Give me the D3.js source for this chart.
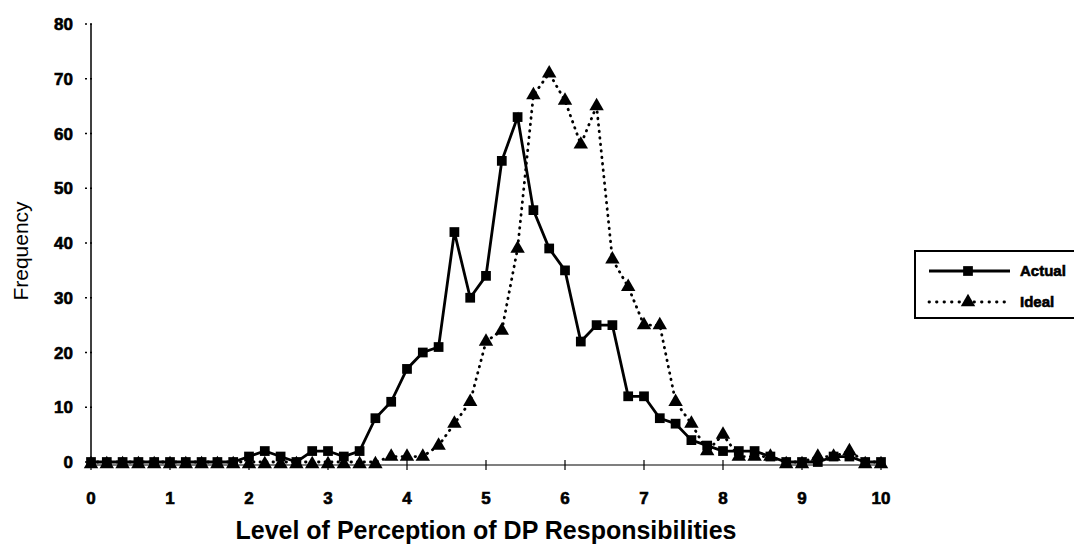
<!DOCTYPE html>
<html>
<head>
<meta charset="utf-8">
<script src="https://cdn.jsdelivr.net/npm/d3@7"></script>
<style>
  body { margin: 0; background: #fff; }
  text { font-family: "Liberation Sans", Arial, sans-serif; }
  .heavy { stroke: #000; stroke-width: 0.6px; }
</style>
</head>
<body>
<svg id="chart" width="1074" height="554"></svg>
<script>
// 数据：横坐标每0.2一个点
const levels = d3.range(0, 51).map(i => +(i * 0.2).toFixed(1));
const actualValues = [0, 0, 0, 0, 0, 0, 0, 0, 0, 0,
    1, 2, 1, 0, 2, 2, 1, 2, 8, 11,
    17, 20, 21, 42, 30, 34, 55, 63, 46, 39,
    35, 22, 25, 25, 12, 12, 8, 7, 4, 3,
    2, 2, 2, 1, 0, 0, 0, 1, 1, 0, 0];
const idealValues = [0, 0, 0, 0, 0, 0, 0, 0, 0, 0,
    0, 0, 0, 0, 0, 0, 0, 0, 0, 1,
    1, 1, 3, 7, 11, 22, 24, 39, 67, 71,
    66, 58, 65, 37, 32, 25, 25, 11, 7, 2,
    5, 1, 1, 1, 0, 0, 1, 1, 2, 0, 0];
const xTicks = d3.range(0, 11);
const yTicks = d3.range(0, 90, 10);
const seriesNames = ['Actual', 'Ideal'];

const svg = d3.select('#chart');

const x = d3.scaleLinear().domain([0, 10]).range([91, 881]);
const y = d3.scaleLinear().domain([0, 80]).range([462, 24]);

// 纵轴
svg.append('line')
    .attr('x1', x(0)).attr('x2', x(0))
    .attr('y1', y(80)).attr('y2', y(0))
    .attr('stroke', '#000').attr('stroke-width', 1.5);

svg.append('g').selectAll('line')
    .data(yTicks)
    .join('line')
    .attr('x1', x(0) - 6).attr('x2', x(0) + 4)
    .attr('y1', d => y(d)).attr('y2', d => y(d))
    .attr('stroke', '#000').attr('stroke-width', 1.5)
    .attr('stroke-dasharray', '2,3');

svg.append('g').selectAll('text')
    .data(yTicks)
    .join('text')
    .attr('class', 'heavy')
    .attr('x', 73).attr('y', d => y(d) + 6)
    .attr('text-anchor', 'end')
    .attr('font-size', '17px').attr('font-weight', 'bold')
    .text(d => d);

// 横轴
const axisY = y(0) + 3;
svg.append('line')
    .attr('x1', x(0)).attr('x2', x(10))
    .attr('y1', axisY).attr('y2', axisY)
    .attr('stroke', '#000').attr('stroke-width', 1.2);

svg.append('g').selectAll('line')
    .data(xTicks)
    .join('line')
    .attr('x1', d => x(d)).attr('x2', d => x(d))
    .attr('y1', axisY - 5).attr('y2', axisY + 5)
    .attr('stroke', '#000').attr('stroke-width', 1.2);

svg.append('g').selectAll('text')
    .data(xTicks)
    .join('text')
    .attr('class', 'heavy')
    .attr('x', d => x(d)).attr('y', 504)
    .attr('text-anchor', 'middle')
    .attr('font-size', '17px').attr('font-weight', 'bold')
    .text(d => d);

// 标题
svg.append('text')
    .attr('x', 486).attr('y', 539)
    .attr('text-anchor', 'middle')
    .attr('font-size', '25px').attr('font-weight', 'bold')
    .text('Level of Perception of DP Responsibilities');

svg.append('text')
    .attr('transform', `translate(28, ${y(40) + 8}) rotate(-90)`)
    .attr('text-anchor', 'middle')
    .attr('font-family', '"Liberation Sans Narrow", "Liberation Sans", Arial, sans-serif')
    .attr('font-size', '21px')
    .text('Frequency');

// 折线
const line = d3.line()
    .x((d, i) => x(levels[i]))
    .y(d => y(d));

svg.append('path')
    .datum(idealValues)
    .attr('d', line)
    .attr('fill', 'none')
    .attr('stroke', '#000')
    .attr('stroke-width', 2.8)
    .attr('stroke-linecap', 'round')
    .attr('stroke-dasharray', '0.5,6');

svg.append('path')
    .datum(actualValues)
    .attr('d', line)
    .attr('fill', 'none')
    .attr('stroke', '#000')
    .attr('stroke-width', 2.8);

const triangle = d3.symbol().type(d3.symbolTriangle).size(90);
const square = d3.symbol().type(d3.symbolSquare).size(95);

svg.append('g').selectAll('path')
    .data(idealValues)
    .join('path')
    .attr('d', triangle)
    .attr('transform', (d, i) => `translate(${x(levels[i])},${y(d) + (d === 0 ? 2 : 0)})`)
    .attr('fill', '#000');

svg.append('g').selectAll('path')
    .data(actualValues)
    .join('path')
    .attr('d', square)
    .attr('transform', (d, i) => `translate(${x(levels[i])},${y(d)})`)
    .attr('fill', '#000');

// 图例
const legend = svg.append('g');
legend.append('rect')
    .attr('x', 915).attr('y', 251)
    .attr('width', 170).attr('height', 67)
    .attr('fill', '#fff')
    .attr('stroke', '#000').attr('stroke-width', 2);

seriesNames.forEach((name, i) => {
    const ly = 271 + i * 31;
    legend.append('line')
        .attr('x1', 929).attr('x2', 1010)
        .attr('y1', ly).attr('y2', ly)
        .attr('stroke', '#000').attr('stroke-width', 2.8)
        .attr('stroke-linecap', i === 1 ? 'round' : 'butt')
        .attr('stroke-dasharray', i === 1 ? '0.5,7' : null);
    legend.append('path')
        .attr('d', i === 0 ? square : triangle)
        .attr('transform', `translate(968,${ly})`)
        .attr('fill', '#000');
    legend.append('text')
        .attr('class', 'heavy')
        .attr('x', 1020).attr('y', ly + 5)
        .attr('font-size', '15px').attr('font-weight', 'bold')
        .text(name);
});
</script>
</body>
</html>
